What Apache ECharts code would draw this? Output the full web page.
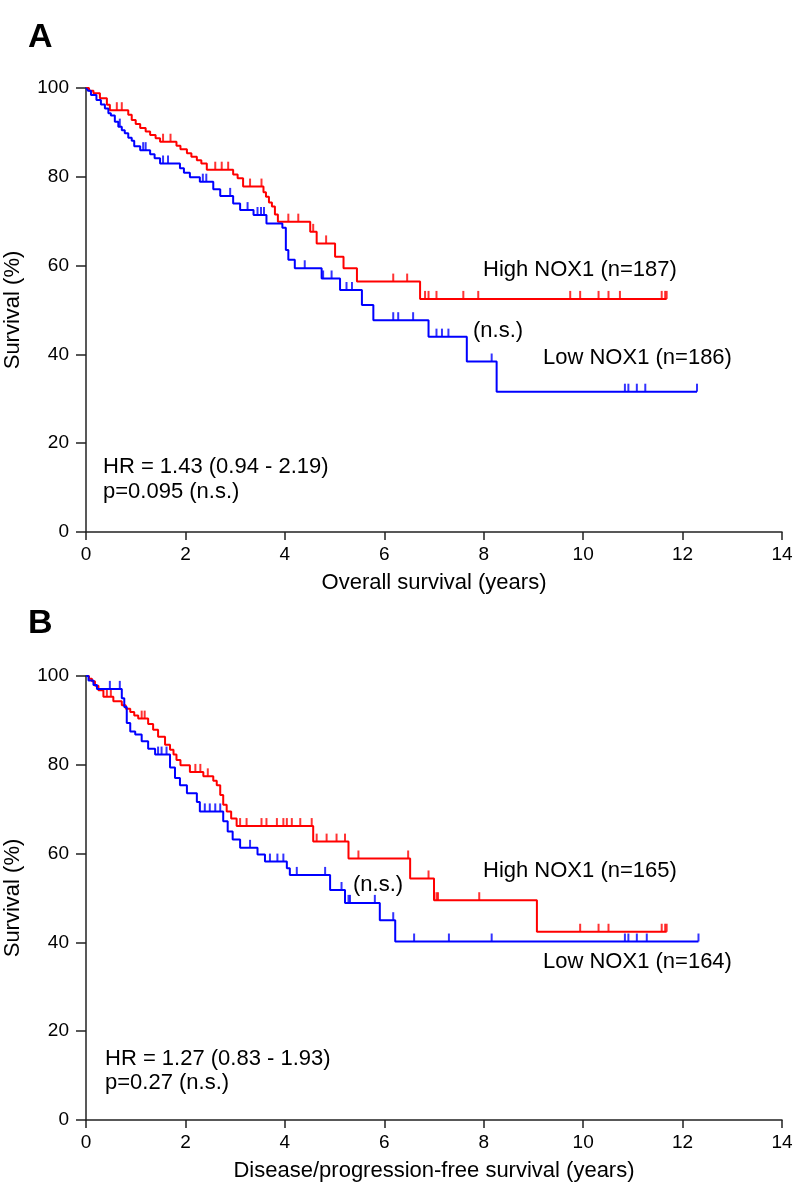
<!DOCTYPE html>
<html>
<head>
<meta charset="utf-8">
<script src="https://cdn.jsdelivr.net/npm/echarts@6/dist/echarts.min.js"></script>
<style>
html,body{margin:0;padding:0;background:#fff;}
#chart{width:800px;height:1188px;}
</style>
</head>
<body>
<div id="chart"></div>
<script>
// Panel A: overall survival — step points [years, survival %]
const aHighSteps = [[0,100],[0.06,99.4],[0.15,98.8],[0.28,97.7],[0.42,96.2],[0.48,95.0],[0.85,94.0],[0.92,92.8],[1.0,91.9],[1.09,91.0],[1.2,90.2],[1.29,89.4],[1.4,88.7],[1.49,87.9],[1.82,87.0],[1.9,86.2],[2.03,85.3],[2.12,84.5],[2.23,83.7],[2.32,83.0],[2.43,81.6],[2.96,80.5],[3.05,79.7],[3.16,77.8],[3.57,76.5],[3.62,75.5],[3.68,74.2],[3.74,73.3],[3.8,71.5],[3.86,69.9],[4.51,67.6],[4.64,65.0],[5.01,62.0],[5.18,59.4],[5.45,56.4],[6.72,52.5],[11.68,52.5]];
const aHighCensor = [0.62,0.72,1.55,1.7,2.6,2.73,2.86,3.3,3.53,4.07,4.27,4.57,4.83,6.18,6.46,6.82,6.89,7.05,7.59,7.89,9.74,9.94,10.31,10.51,10.74,11.58,11.65,11.68];
const aLowSteps = [[0,100],[0.04,99.4],[0.1,98.4],[0.21,97.3],[0.3,96.3],[0.38,95.4],[0.45,94.3],[0.5,93.8],[0.58,92.4],[0.65,91.3],[0.72,90.5],[0.78,89.8],[0.85,88.8],[0.92,88.1],[0.97,86.9],[1.09,86.0],[1.29,85.1],[1.38,84.2],[1.49,83.0],[1.89,81.9],[1.97,80.9],[2.09,79.9],[2.29,78.9],[2.56,77.2],[2.7,75.7],[2.96,74.0],[3.1,72.5],[3.37,71.4],[3.63,69.5],[3.95,68.5],[4.02,63.5],[4.07,61.3],[4.2,59.4],[4.74,57.1],[5.11,54.5],[5.55,51.1],[5.78,47.7],[6.89,44.0],[7.66,38.4],[8.26,31.6],[12.29,31.6]];
const aLowCensor = [0.68,1.15,1.2,1.55,1.65,2.35,2.42,2.9,3.25,3.45,3.52,3.58,4.4,4.77,4.94,5.24,5.35,6.18,6.28,6.58,7.05,7.16,7.29,8.16,10.84,10.91,11.08,11.25,12.29];

// Panel B: disease/progression-free survival
const bHighSteps = [[0,100],[0.06,99.4],[0.12,98.8],[0.18,97.8],[0.25,96.8],[0.35,95.3],[0.55,94.3],[0.72,93.4],[0.8,92.6],[0.89,91.9],[0.97,91.1],[1.05,90.4],[1.25,89.2],[1.35,87.9],[1.45,86.3],[1.59,84.5],[1.69,83.4],[1.76,82.3],[1.82,81.1],[1.9,79.9],[2.09,78.4],[2.36,77.4],[2.56,76.4],[2.63,75.4],[2.7,73.2],[2.76,71.0],[2.83,69.5],[2.92,67.9],[3.03,66.2],[4.57,62.7],[5.28,58.9],[6.52,54.4],[7.0,49.5],[9.07,42.4],[11.68,42.4]];
const bHighCensor = [0.42,0.5,1.12,1.18,2.2,2.3,2.45,3.1,3.23,3.53,3.63,3.84,3.97,4.04,4.14,4.31,4.54,4.64,4.84,5.04,5.21,5.48,6.48,6.89,7.05,7.08,7.91,9.94,10.31,10.51,11.58,11.65,11.68];
const bLowSteps = [[0,100],[0.05,99.0],[0.15,98.0],[0.22,97.1],[0.72,95.0],[0.77,93.0],[0.82,89.4],[0.89,87.5],[0.99,86.8],[1.12,85.3],[1.25,83.6],[1.39,82.3],[1.69,79.4],[1.79,77.0],[1.89,75.4],[2.03,73.6],[2.23,71.6],[2.29,69.5],[2.76,67.3],[2.85,65.0],[2.95,63.2],[3.1,61.3],[3.45,59.8],[3.6,58.2],[4.04,56.7],[4.1,55.2],[4.91,51.8],[5.21,48.9],[5.91,45.0],[6.22,40.2],[12.32,40.2]];
const bLowCensor = [0.48,0.68,1.45,1.52,1.62,2.39,2.49,2.6,2.7,3.3,3.7,3.85,3.97,4.24,4.81,5.14,5.28,5.31,5.81,6.18,6.6,7.3,8.16,10.84,10.91,11.08,11.28,12.32];

const xTickValues = [0,2,4,6,8,10,12,14];
const yTickValues = [0,20,40,60,80,100];

const RED = '#ff0000', BLUE = '#0000ff';
const FONT = '"Liberation Sans", Arial, sans-serif';

function survAt(steps, t) {
  let s = steps[0][1];
  for (const p of steps) { if (p[0] <= t + 1e-9) s = p[1]; else break; }
  return s;
}
function censorPts(steps, times) { return times.map(t => [t, survAt(steps, t)]); }

function lineSeries(steps, color, idx) {
  return { type:'line', step:'end', data: steps, xAxisIndex: idx, yAxisIndex: idx,
    showSymbol:false, symbol:'none', silent:true, animation:false, clip:false,
    lineStyle:{ color: color, width: 2 } };
}
function censorSeries(steps, times, color, idx) {
  return { type:'scatter', data: censorPts(steps, times), xAxisIndex: idx, yAxisIndex: idx,
    symbol:'rect', symbolSize:[2, 8], symbolOffset:[0, -4], silent:true, animation:false,
    itemStyle:{ color: color } };
}
function xAx(idx, name) {
  return { gridIndex: idx, type:'value', min:0, max:14, interval:2,
    name: name, nameLocation:'middle', nameGap:40,
    nameTextStyle:{ fontSize:22, color:'#000', fontFamily: FONT },
    axisLine:{ show:true, lineStyle:{ color:'#222', width:1.5 } },
    axisTick:{ show:true, length:8, lineStyle:{ color:'#222', width:1.5 } },
    axisLabel:{ fontSize:19, color:'#000', fontFamily: FONT, margin:13,
      formatter: v => xTickValues.includes(v) ? String(v) : '' },
    splitLine:{ show:false } };
}
function yAx(idx) {
  return { gridIndex: idx, type:'value', min:0, max:100, interval:20,
    name:'Survival (%)', nameLocation:'middle', nameGap:62,
    nameTextStyle:{ fontSize:22, color:'#000', fontFamily: FONT },
    axisLine:{ show:true, lineStyle:{ color:'#222', width:1.5 } },
    axisTick:{ show:true, length:10, lineStyle:{ color:'#222', width:1.5 } },
    axisLabel:{ fontSize:19, color:'#000', fontFamily: FONT, margin:17,
      formatter: v => yTickValues.includes(v) ? String(v) : '' },
    splitLine:{ show:false } };
}
function txt(x, y, s, size, bold) {
  return { type:'text', x: x, y: y, silent:true,
    style:{ text: s, fill:'#000', font: (bold ? 'bold ' : '') + size + 'px ' + FONT, verticalAlign:'middle' } };
}

const chart = echarts.init(document.getElementById('chart'), null, { renderer:'canvas' });
chart.setOption({
  backgroundColor:'#fff',
  animation:false,
  grid:[
    { left:86, top:88, width:696, height:444, containLabel:false, outerBoundsMode:'none' },
    { left:86, top:676, width:696, height:444, containLabel:false, outerBoundsMode:'none' }
  ],
  xAxis:[ xAx(0, 'Overall survival (years)'), xAx(1, 'Disease/progression-free survival (years)') ],
  yAxis:[ yAx(0), yAx(1) ],
  series:[
    lineSeries(aHighSteps, RED, 0), lineSeries(aLowSteps, BLUE, 0),
    censorSeries(aHighSteps, aHighCensor, RED, 0), censorSeries(aLowSteps, aLowCensor, BLUE, 0),
    lineSeries(bHighSteps, RED, 1), lineSeries(bLowSteps, BLUE, 1),
    censorSeries(bHighSteps, bHighCensor, RED, 1), censorSeries(bLowSteps, bLowCensor, BLUE, 1)
  ],
  graphic:[
    txt(28, 38, 'A', 34, true),
    txt(28, 624, 'B', 34, true),
    txt(483, 270, 'High NOX1 (n=187)', 22),
    txt(543, 358, 'Low NOX1 (n=186)', 22),
    txt(473, 331, '(n.s.)', 22),
    txt(103, 467, 'HR = 1.43 (0.94 - 2.19)', 22),
    txt(103, 492, 'p=0.095 (n.s.)', 22),
    txt(483, 871, 'High NOX1 (n=165)', 22),
    txt(543, 962, 'Low NOX1 (n=164)', 22),
    txt(353, 885, '(n.s.)', 22),
    txt(105, 1059, 'HR = 1.27 (0.83 - 1.93)', 22),
    txt(105, 1083, 'p=0.27 (n.s.)', 22)
  ]
});
</script>
</body>
</html>
